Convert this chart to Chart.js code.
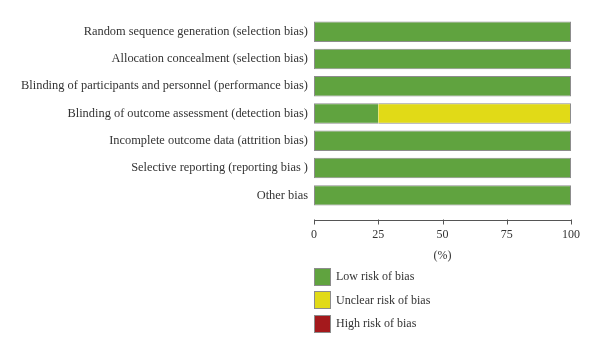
<!DOCTYPE html>
<html>
<head>
<meta charset="utf-8">
<script src="https://cdn.jsdelivr.net/npm/chart.js@4/dist/chart.umd.min.js"></script>
<style>
    html, body { margin: 0; padding: 0; background: #fff; }
    #wrap { position: relative; width: 600px; height: 354px; }
    #legend { position: absolute; left: 314px; top: 268px; font-family: "Liberation Serif", serif; font-size: 12px; color: #333; }
    .item { display: flex; align-items: center; height: 23.5px; }
    .box { width: 15px; height: 16px; border: 1px solid #8c8c8c; box-sizing: content-box; margin-right: 5px; margin-top: -6px; }
</style>
</head>
<body>
<div id="wrap">
    <canvas id="riskChart" width="600" height="354"></canvas>
    <div id="legend"></div>
</div>
<script>
// Risk of bias domains
const domains = [
    'Random sequence generation (selection bias)',
    'Allocation concealment (selection bias)',
    'Blinding of participants and personnel (performance bias)',
    'Blinding of outcome assessment (detection bias)',
    'Incomplete outcome data (attrition bias)',
    'Selective reporting (reporting bias )',
    'Other bias'
];

// Percent of studies per judgement
const lowRisk = [100, 100, 100, 25, 100, 100, 100];
const unclearRisk = [0, 0, 0, 75, 0, 0, 0];
const highRisk = [0, 0, 0, 0, 0, 0, 0];

const xTicks = [0, 25, 50, 75, 100];

const seriesNames = ['Low risk of bias', 'Unclear risk of bias', 'High risk of bias'];
const seriesColors = ['#60a33f', '#e1da17', '#a4191c'];

const font = { family: '"Liberation Serif", serif', size: 12 };
const labelFont = { family: '"Liberation Serif", serif', size: 12.4 };
const textColor = '#333';
const edgeColor = '#8c8c8c';

const allSeries = [lowRisk, unclearRisk, highRisk];

// full outline round each bar, no line where two segments meet
function segmentBorder(context) {
    const i = context.dataIndex;
    const d = context.datasetIndex;
    if (!allSeries[d][i]) return 0;
    let first = true, last = true;
    for (let k = 0; k < d; k++) if (allSeries[k][i]) first = false;
    for (let k = d + 1; k < allSeries.length; k++) if (allSeries[k][i]) last = false;
    return { top: 1, bottom: 1, left: first ? 1 : 0, right: last ? 1 : 0 };
}

// x axis line sits a little below the bars
const offsetAxis = {
    id: 'offsetAxis',
    afterDraw(chart) {
        const ctx = chart.ctx;
        const x = chart.scales.x;
        const yLine = Math.round(x.top + 11) + 0.5;
        ctx.save();
        ctx.strokeStyle = '#555';
        ctx.lineWidth = 1;
        ctx.beginPath();
        ctx.moveTo(x.getPixelForValue(0), yLine);
        ctx.lineTo(x.getPixelForValue(100), yLine);
        xTicks.forEach(function(t) {
            const px = Math.round(x.getPixelForValue(t)) + 0.5;
            ctx.moveTo(px, yLine - 1);
            ctx.lineTo(px, yLine + 4);
        });
        ctx.stroke();
        ctx.restore();
    }
};

const chart = new Chart(document.getElementById('riskChart'), {
    type: 'bar',
    data: {
        labels: domains,
        datasets: allSeries.map(function(values, idx) {
            return {
                label: seriesNames[idx],
                data: values,
                backgroundColor: seriesColors[idx],
                borderColor: edgeColor,
                borderWidth: segmentBorder,
                borderSkipped: false,
                barPercentage: 0.75,
                categoryPercentage: 1
            };
        })
    },
    options: {
        indexAxis: 'y',
        responsive: false,
        animation: false,
        layout: {
            padding: { left: 0, right: 29, top: 18, bottom: 91 }
        },
        plugins: {
            legend: { display: false },
            tooltip: { enabled: false }
        },
        scales: {
            x: {
                stacked: true,
                min: 0,
                max: 100,
                afterBuildTicks: function(scale) {
                    scale.ticks = xTicks.map(function(v) { return { value: v }; });
                },
                afterFit: function(scale) {
                    scale.height = 54;
                },
                grid: { display: false, drawTicks: false },
                border: { display: false },
                ticks: { font: font, color: textColor, padding: 19 },
                title: {
                    display: true,
                    text: '(%)',
                    font: font,
                    color: textColor,
                    padding: 0
                }
            },
            y: {
                stacked: true,
                afterFit: function(scale) {
                    scale.width = 314;
                },
                grid: { display: false, drawTicks: false },
                border: { display: false },
                ticks: { font: labelFont, color: textColor, padding: 6 }
            }
        }
    },
    plugins: [offsetAxis]
});

// legend below the axis, one entry per line
const legendEl = document.getElementById('legend');
chart.data.datasets.forEach(function(ds) {
    const item = document.createElement('div');
    item.className = 'item';
    const box = document.createElement('span');
    box.className = 'box';
    box.style.background = ds.backgroundColor;
    const label = document.createElement('span');
    label.textContent = ds.label;
    label.style.marginTop = '-6px';
    item.appendChild(box);
    item.appendChild(label);
    legendEl.appendChild(item);
});
</script>
</body>
</html>
